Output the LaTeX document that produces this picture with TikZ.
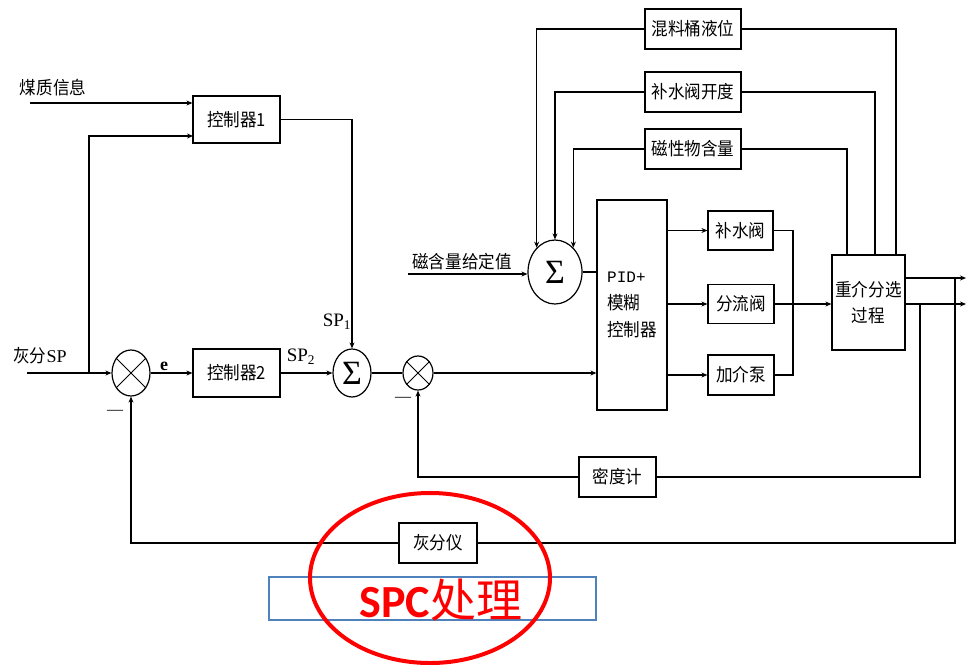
\documentclass[tikz,border=0pt]{standalone}
\usepackage{fontspec}
\setmainfont{Liberation Serif}
\setmonofont{Liberation Mono}
\newfontfamily\cjk{Noto Sans CJK SC}[FakeStretch=0.92]
\newfontfamily\cjkn{Noto Sans CJK SC}
\newfontfamily\carl{Carlito}
\usetikzlibrary{arrows.meta,shapes.geometric}
\definecolor{spcblue}{RGB}{79,129,189}
\begin{document}
\begin{tikzpicture}[x=1pt,y=-1pt,
  ln/.style={line width=1.2pt},
  arr/.style={line width=1.2pt,-{Stealth[length=6pt,width=5pt]}},
  box/.style={draw,line width=1.2pt,inner sep=0pt,font=\cjk\fontsize{18}{21}\selectfont},
  lbl/.style={inner sep=0pt,font=\cjk\fontsize{18}{21}\selectfont},
  circ/.style={draw,ellipse,line width=1.2pt,inner sep=0pt},
  sig/.style={font=\rmfamily\fontsize{34}{34}\selectfont},
  splbl/.style={inner sep=0pt,font=\rmfamily\fontsize{19}{19}\selectfont},
  minus/.style={inner sep=0pt,font=\rmfamily\fontsize{16}{16}\selectfont}
]
\useasboundingbox (0,0) rectangle (968,664);

% ---------- left part ----------
\node[lbl] (mzl) at (53,88) {煤质信息};
\coordinate (mz) at (30,103);
\node[box,minimum width=87pt,minimum height=47pt] (ctrl1) at (236.5,119.5) {控制器1};
\coordinate (c1in) at (193,136);
\node[lbl] (hspl) at (40,356) {灰分{\rmfamily SP}};
\coordinate (hsp) at (27,373);
\coordinate (j1) at (89,373);
\node[circ,minimum width=38pt,minimum height=46pt] (x1) at (131,373) {};
\node[inner sep=0pt,font=\rmfamily\bfseries\fontsize{18}{18}\selectfont] (e) at (164,366) {e};
\node[box,minimum width=87pt,minimum height=48pt] (ctrl2) at (236.5,373) {控制器2};
\node[circ,sig,minimum width=38pt,minimum height=48pt] (s1) at (352,373) {Σ};
\node[splbl] (sp1) at (337,322) {SP\textsubscript{1}};
\node[splbl] (sp2) at (301,357) {SP\textsubscript{2}};
\node[circ,minimum width=30pt,minimum height=34pt] (x2) at (418,373) {};
\node[minus] (mi1) at (115,412) {—};
\node[minus] (mi2) at (403,399) {—};

\draw[ln,line width=0.8pt] (x1.45) -- (x1.225) (x1.135) -- (x1.315);
\draw[ln,line width=0.8pt] (x2.45) -- (x2.225) (x2.135) -- (x2.315);

\draw[arr] (mz) -- (mz -| ctrl1.west);
\draw[arr] (j1) |- (c1in);
\draw[arr] (hsp) -- (x1.west);
\draw[arr] (x1.east) -- (ctrl2.west);
\draw[arr] (ctrl2.east) -- (s1.west);
\draw[arr] (ctrl1.east) -| (s1.north);
\draw[ln] (s1.east) -- (x2.west);

% ---------- middle ----------
\node[lbl] (cgl) at (462,262) {磁含量给定值};
\coordinate (cg) at (408,274);
\node[circ,sig,minimum width=54pt,minimum height=64pt] (s2) at (555,272) {Σ};
\node[box,minimum width=70pt,minimum height=210pt] (pid) at (632,305) {};
\node[anchor=west,align=left,inner sep=0pt,font=\cjk\fontsize{18}{27}\selectfont] (pidt) at (607,305) {{\ttfamily\fontsize{16}{27}\selectfont PID+}\\模糊\\控制器};
\draw[arr] (cg) -- (cg -| s2.west);
\draw[ln] (s2.east) -- (s2.east -| pid.west);
\draw[arr] (x2.east) -- (x2.east -| pid.west);

% ---------- actuators and process ----------
\node[box,minimum width=65pt,minimum height=39pt] (bs) at (740.5,230.5) {补水阀};
\node[box,minimum width=66pt,minimum height=39pt] (fl) at (741,304) {分流阀};
\node[box,minimum width=66pt,minimum height=40pt] (jj) at (741,375) {加介泵};
\node[box,minimum width=73pt,minimum height=95pt,align=center,font=\cjk\fontsize{18}{26}\selectfont] (proc) at (868.5,302.5) {重介分选\\过程};
\draw[arr] (bs.west -| pid.east) -- (bs.west);
\draw[arr] (fl.west -| pid.east) -- (fl.west);
\draw[arr] (jj.west -| pid.east) -- (jj.west);
\coordinate (m1) at (793,304);
\draw[ln] (bs.east) -| (m1);
\draw[ln] (jj.east) -| (m1);
\draw[arr] (fl.east) -- (fl.east -| proc.west);
\coordinate (o1) at (966,278);
\coordinate (o2) at (966,304);
\draw[arr] (o1 -| proc.east) -- (o1);
\draw[arr] (o2 -| proc.east) -- (o2);

% ---------- top feedback ----------
\node[box,minimum width=96pt,minimum height=40pt] (mix) at (693,29) {混料桶液位};
\node[box,minimum width=96pt,minimum height=40pt] (bsk) at (693,92) {补水阀开度};
\node[box,minimum width=96pt,minimum height=40pt] (cx) at (693,149) {磁性物含量};
\coordinate (t1) at (896,255);
\coordinate (t2) at (875,255);
\coordinate (t3) at (847,255);
\draw[ln] (t1) |- (mix.east);
\draw[arr] (mix.west) -| (s2.127);
\draw[ln] (t2) |- (bsk.east);
\draw[arr] (bsk.west) -| (s2.north);
\draw[ln] (t3) |- (cx.east);
\draw[arr] (cx.west) -| (s2.53);

% ---------- bottom feedback ----------
\coordinate (d1) at (920,304);
\node[box,minimum width=77pt,minimum height=40pt] (md) at (617.5,477) {密度计};
\draw[ln] (d1) |- (md.east);
\draw[arr] (md.west) -| (x2.south);
\coordinate (a1) at (955,278);
\node[box,minimum width=78pt,minimum height=40pt] (hf) at (438,543) {灰分仪};
\draw[ln] (a1) |- (hf.east);
\draw[arr] (hf.west) -| (x1.south);

% ---------- SPC ----------
\node[draw=spcblue,line width=1.8pt,minimum width=327pt,minimum height=43pt,inner sep=0pt] (spc) at (432.5,598.5) {};
\node[inner sep=0pt,text=red] (spct) at (441,600) {{\carl\bfseries\fontsize{46}{46}\selectfont SPC}{\cjkn\fontsize{46}{46}\selectfont 处理}};
\node[draw=red,line width=4pt,ellipse,minimum width=240pt,minimum height=170pt,inner sep=0pt] (ring) at (430,578) {};
\end{tikzpicture}
\end{document}
